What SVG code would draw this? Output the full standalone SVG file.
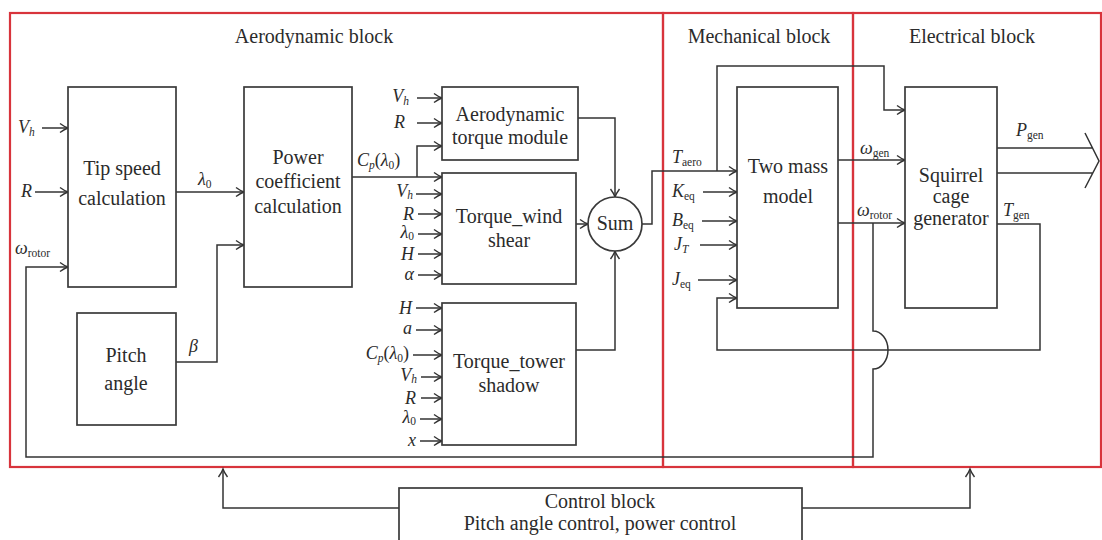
<svg xmlns="http://www.w3.org/2000/svg" width="1102" height="540" viewBox="0 0 1102 540">
<style>
text{font-family:"Liberation Serif","DejaVu Serif",serif;font-size:20px;fill:#2b2b2b}
.c{text-anchor:middle}
.e{text-anchor:end}
.i{font-style:italic;font-size:18px}
.s{font-size:11.5px;font-style:normal}
.si{font-size:11.5px;font-style:italic}
.box{fill:#fff;stroke:#3a3a3a;stroke-width:1.7}
.frame{fill:none;stroke:#d8343c;stroke-width:2.2}
.ln{fill:none;stroke:#333;stroke-width:1.5}
.ar{fill:none;stroke:#333;stroke-width:1.5;marker-end:url(#arr)}
</style>
<defs>
<marker id="arr" viewBox="-10 -6 12 12" refX="0" refY="0" markerWidth="12" markerHeight="12" markerUnits="userSpaceOnUse" orient="auto" overflow="visible">
<path d="M-8,-4.5 Q-3.5,-1.2 0,0 Q-3.5,1.2 -8,4.5" fill="none" stroke="#333" stroke-width="1.4"/>
</marker>
</defs>
<rect width="1102" height="540" fill="#fff"/>

<g id="frames">
<rect class="frame" x="10" y="13" width="653" height="454"/>
<rect class="frame" x="663" y="13" width="190" height="454"/>
<rect class="frame" x="853" y="13" width="248" height="454"/>
<text class="c" x="314" y="43">Aerodynamic block</text>
<text class="c" x="759" y="43">Mechanical block</text>
<text class="c" x="972" y="43">Electrical block</text>
</g>

<g id="connectors">
<path class="ar" d="M42,128 H68"/>
<path class="ar" d="M35,192 H68"/>
<path class="ar" d="M873,223 V331 A15 19 0 0 1 873 369 V457 H26 V267 H68"/>
<path class="ar" d="M176,192 H244"/>
<path class="ar" d="M176,362 H217 V245 H244"/>
<path class="ar" d="M352,177 H442"/>
<path class="ar" d="M417,177 V146 H442"/>
<path class="ar" d="M417,98 H442"/>
<path class="ar" d="M417,123 H442"/>
<path class="ar" d="M416,194 H442"/>
<path class="ar" d="M418,214 H442"/>
<path class="ar" d="M418,234 H442"/>
<path class="ar" d="M418,254 H442"/>
<path class="ar" d="M418,275 H442"/>
<path class="ar" d="M416,308 H442"/>
<path class="ar" d="M416,330 H442"/>
<path class="ar" d="M413,355 H442"/>
<path class="ar" d="M421,377 H442"/>
<path class="ar" d="M421,398 H442"/>
<path class="ar" d="M420,419 H442"/>
<path class="ar" d="M420,441 H442"/>
<path class="ar" d="M578,118 H615 V197"/>
<path class="ar" d="M576,224 H588"/>
<path class="ar" d="M576,350 H615 V251"/>
<path class="ar" d="M642,224 H652 V171 H737"/>
<path class="ar" d="M717,171 V66 H884 V110 H905"/>
<path class="ar" d="M703,192 H737"/>
<path class="ar" d="M702,221 H737"/>
<path class="ar" d="M700,245 H737"/>
<path class="ar" d="M698,280 H737"/>
<path class="ar" d="M838,160 H905"/>
<path class="ar" d="M838,223 H905"/>
<path class="ar" d="M997,224 H1040 V350 H717 V298 H737"/>
<path class="ln" d="M997,148 H1092 M997,173 H1093 M1085,133 L1099,161 L1085,188"/>
<path class="ar" d="M399,508 H223 V469"/>
<path class="ar" d="M802,508 H970 V469"/>
</g>

<g id="labels">
<text class="i" x="18" y="133">V<tspan class="si" dy="3">h</tspan></text>
<text class="i" x="21" y="197">R</text>
<text class="i" x="15" y="254">ω<tspan class="s" dy="3">rotor</tspan></text>
<text class="i" x="198" y="185">λ<tspan class="s" dy="3">0</tspan></text>
<text class="i" x="189" y="352">β</text>
<text class="i" x="357" y="166">C<tspan class="si" dy="3">p</tspan><tspan dy="-3" font-style="normal">(</tspan>λ<tspan class="s" dy="3">0</tspan><tspan dy="-3" font-style="normal">)</tspan></text>
<text class="i e" x="409" y="102">V<tspan class="si" dy="3">h</tspan></text>
<text class="i e" x="405" y="128">R</text>
<text class="i e" x="413" y="197">V<tspan class="si" dy="2">h</tspan></text>
<text class="i e" x="414" y="220">R</text>
<text class="i e" x="414" y="238">λ<tspan class="s" dy="2">0</tspan></text>
<text class="i e" x="414" y="260">H</text>
<text class="i e" x="414" y="280">α</text>
<text class="i e" x="412" y="314">H</text>
<text class="i e" x="412" y="334">a</text>
<text class="i e" x="409" y="359">C<tspan class="si" dy="3">p</tspan><tspan dy="-3" font-style="normal">(</tspan>λ<tspan class="s" dy="3">0</tspan><tspan dy="-3" font-style="normal">)</tspan></text>
<text class="i e" x="417" y="381">V<tspan class="si" dy="2">h</tspan></text>
<text class="i e" x="416" y="404">R</text>
<text class="i e" x="416" y="423">λ<tspan class="s" dy="2">0</tspan></text>
<text class="i e" x="416" y="446">x</text>
<text class="i" x="672" y="163">T<tspan class="s" dy="3">aero</tspan></text>
<text class="i" x="672" y="197">K<tspan class="s" dy="3">eq</tspan></text>
<text class="i" x="672" y="226">B<tspan class="s" dy="3">eq</tspan></text>
<text class="i" x="674" y="250">J<tspan class="si" dy="3">T</tspan></text>
<text class="i" x="672" y="285">J<tspan class="s" dy="3">eq</tspan></text>
<text class="i" x="860" y="154">ω<tspan class="s" dy="3">gen</tspan></text>
<text class="i" x="857" y="216">ω<tspan class="s" dy="3">rotor</tspan></text>
<text class="i" x="1016" y="136">P<tspan class="s" dy="3">gen</tspan></text>
<text class="i" x="1003" y="216">T<tspan class="s" dy="3">gen</tspan></text>
</g>

<g id="tip-speed">
<rect class="box" x="68" y="87" width="108" height="200"/>
<text class="c" x="122" y="175">Tip speed</text>
<text class="c" x="122" y="205">calculation</text>
</g>
<g id="power-coefficient">
<rect class="box" x="244" y="87" width="108" height="200"/>
<text class="c" x="298" y="164">Power</text>
<text class="c" x="298" y="188">coefficient</text>
<text class="c" x="298" y="213">calculation</text>
</g>
<g id="pitch-angle">
<rect class="box" x="77" y="313" width="99" height="112"/>
<text class="c" x="126" y="362">Pitch</text>
<text class="c" x="126" y="390">angle</text>
</g>
<g id="aero-torque">
<rect class="box" x="442" y="87" width="136" height="73"/>
<text class="c" x="510" y="121">Aerodynamic</text>
<text class="c" x="510" y="144">torque module</text>
</g>
<g id="wind-shear">
<rect class="box" x="442" y="173" width="134" height="111"/>
<text class="c" x="509" y="223">Torque_wind</text>
<text class="c" x="509" y="247">shear</text>
</g>
<g id="tower-shadow">
<rect class="box" x="442" y="303" width="134" height="142"/>
<text class="c" x="509" y="368">Torque_tower</text>
<text class="c" x="509" y="392">shadow</text>
</g>
<g id="sum">
<circle class="box" cx="615" cy="224" r="27"/>
<text class="c" x="615" y="230">Sum</text>
</g>
<g id="two-mass">
<rect class="box" x="737" y="87" width="101" height="221"/>
<text class="c" x="788" y="173">Two mass</text>
<text class="c" x="788" y="203">model</text>
</g>
<g id="generator">
<rect class="box" x="905" y="87" width="92" height="221"/>
<text class="c" x="951" y="182">Squirrel</text>
<text class="c" x="951" y="203">cage</text>
<text class="c" x="951" y="225">generator</text>
</g>
<g id="control">
<rect class="box" x="399" y="488" width="403" height="62"/>
<text class="c" x="600" y="508">Control block</text>
<text class="c" x="600" y="530">Pitch angle control, power control</text>
</g>
</svg>
